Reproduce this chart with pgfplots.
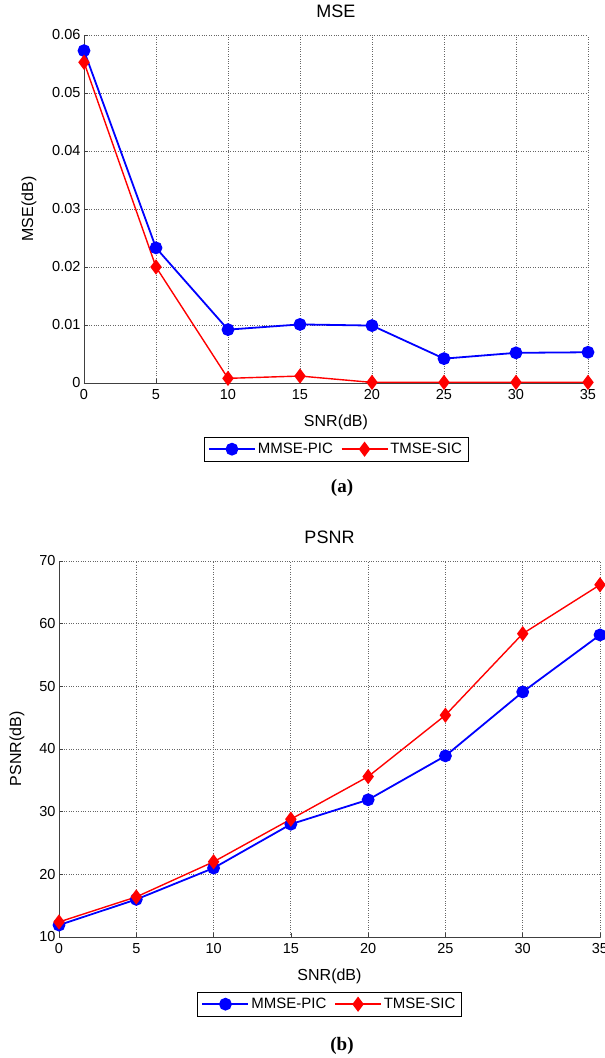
\documentclass[border=0pt]{standalone}
\usepackage{pgfplots}
\pgfplotsset{compat=1.18}
\usepackage{fontspec}
\setmainfont{Liberation Sans}
\newfontfamily\capfont{Liberation Serif}
\definecolor{mblue}{rgb}{0,0,1}
\definecolor{mred}{rgb}{1,0,0}
\pgfplotsset{
  mstyle/.style={
    scale only axis,
    axis x line*=bottom, axis y line*=left,
    axis line style={line width=0.9pt, color=black!75},
    tick align=inside, major tick length=4pt,
    tick style={color=black!75, line width=0.7pt},
    grid=major,
    major grid style={dotted, color=black!60, line width=0.8pt},
    xmin=0, xmax=35, xtick={0,5,...,35},
    scaled y ticks=false,
    tick label style={font=\fontsize{14.5}{16}\selectfont},
    xticklabel style={yshift=-3pt},
    /pgf/number format/assume math mode=true,
    label style={font=\fontsize{16}{18}\selectfont},
    title style={font=\fontsize{18}{20}\selectfont, at={(axis description cs:0.5,1)}, anchor=center, yshift=18pt},
    xlabel style={at={(axis description cs:0.5,0)}, anchor=center, yshift=-39pt},
    legend columns=2,
    legend style={font=\fontsize{15}{17}\selectfont, draw=black, anchor=north, inner sep=4pt,
      /tikz/every even column/.append style={column sep=6pt}},
    legend image code/.code={
      \draw[#1, mark repeat=2, mark phase=2] plot coordinates {(0pt,0pt) (23pt,0pt) (46pt,0pt)};},
  },
  mpic/.style={draw=mblue, color=mblue, line width=1.8pt, mark=*, mark size=5.5pt, mark options={solid, draw=mblue, fill=mblue}},
  msic/.style={draw=mred, color=mred, line width=1.4pt, mark=diamond*, mark size=6.5pt, mark options={solid, draw=mred, fill=mred}},
}
\begin{document}
\begin{tikzpicture}[x=1pt,y=1pt]
\begin{axis}[mstyle,
  at={(84pt,675pt)}, anchor=south west,
  width=504pt, height=348pt,
  ymin=0, ymax=0.06, ytick={0,0.01,...,0.06},
  yticklabels={0,0.01,0.02,0.03,0.04,0.05,0.06},
  title={MSE}, xlabel={SNR(dB)}, ylabel={MSE(dB)},
  ylabel style={at={(axis description cs:0,0.5)}, anchor=center, yshift=55pt},
  legend style={at={(axis description cs:0.5,0)}, yshift=-54pt},
]
\addplot[mpic] coordinates {(0,0.0573) (5,0.0233) (10,0.0092) (15,0.0101) (20,0.0099) (25,0.0042) (30,0.0052) (35,0.0053)};
\addlegendentry{MMSE-PIC}
\addplot[msic] coordinates {(0,0.0553) (5,0.0200) (10,0.0008) (15,0.0012) (20,0.0001) (25,0.0001) (30,0.0001) (35,0.0001)};
\addlegendentry{TMSE-SIC}
\end{axis}
\node[font=\capfont\bfseries\fontsize{19}{21}\selectfont] at (342,570) {(a)};
\begin{axis}[mstyle,
  at={(59pt,121pt)}, anchor=south west,
  width=541pt, height=376pt,
  ymin=10, ymax=70, ytick={10,20,...,70},
  title={PSNR}, xlabel={SNR(dB)}, ylabel={PSNR(dB)},
  ylabel style={at={(axis description cs:0,0.5)}, anchor=center, yshift=42pt},
  legend style={at={(axis description cs:0.5,0)}, yshift=-55pt},
]
\addplot[mpic] coordinates {(0,11.9) (5,16.0) (10,21.0) (15,28.0) (20,31.9) (25,38.9) (30,49.1) (35,58.2)};
\addlegendentry{MMSE-PIC}
\addplot[msic] coordinates {(0,12.4) (5,16.4) (10,22.0) (15,28.8) (20,35.6) (25,45.4) (30,58.4) (35,66.2)};
\addlegendentry{TMSE-SIC}
\end{axis}
\node[font=\capfont\bfseries\fontsize{19}{21}\selectfont] at (342,12) {(b)};
\pgfresetboundingbox
\path[use as bounding box] (0,0) rectangle (605,1058);
\end{tikzpicture}
\end{document}
